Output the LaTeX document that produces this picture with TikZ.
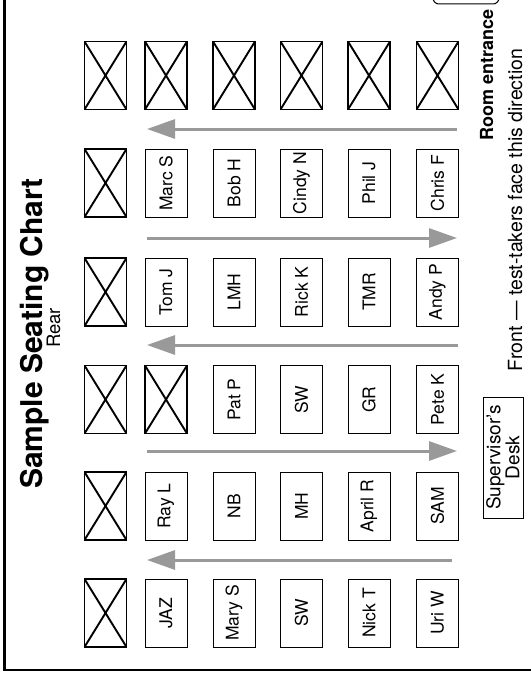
\documentclass[tikz,border=0pt]{standalone}
\usepackage{fontspec}
\setmainfont{TeX Gyre Heros}
\usetikzlibrary{arrows.meta}

\tikzset{
    seat/.style = {draw, line width = 0.9pt, rotate = 90, minimum width = 68pt, minimum height = 42pt, inner sep = 0pt, font = \fontsize{17.5}{20}\selectfont},
    noseat/.style = {seat, line width = 1.3pt, path picture = {
        \draw[line width = 1.9pt] (path picture bounding box.north west) -- (path picture bounding box.south east)
            (path picture bounding box.north east) -- (path picture bounding box.south west);}},
    aisle/.style = {draw = black!40, line width = 3pt, -{Triangle[length = 28pt, width = 19pt]}},
    sidetext/.style = {rotate = 90, anchor = base, inner sep = 0pt}
}

\begin{document}
\begin{tikzpicture}[x = 1pt, y = -1pt]
    \useasboundingbox (0,0) rectangle (530,677);

    \draw[line width = 2.5pt] (4.5,-10) |- (540,670);
    \node[draw, line width = 1pt, rounded corners = 6pt, minimum width = 66pt, minimum height = 26pt] (door) at (466,-9) {};

    \node[sidetext, font = \bfseries\fontsize{30}{36}\selectfont] (title) at (42,333.5) {Sample Seating Chart};
    \node[sidetext, font = \fontsize{18.5}{22}\selectfont] (rear) at (60,328) {Rear};
    \node[sidetext, font = \bfseries\fontsize{18}{20}\selectfont] (entrance) at (493,75) {Room entrance};
    \node[sidetext, font = \fontsize{19.5}{22}\selectfont] (front) at (522,210) {Front --- test-takers face this direction};
    \node[draw, line width = 0.9pt, rotate = 90, minimum width = 121pt, minimum height = 40pt, inner sep = 0pt, align = center, font = \fontsize{19}{17}\selectfont] (desk) at (503,457.5) {Supervisor’s\\Desk};

    \node[noseat] (r1c1) at (105.5,75.5) {};
    \node[noseat] (r1c2) at (166,75.5) {};
    \node[noseat] (r1c3) at (234,75.5) {};
    \node[noseat] (r1c4) at (301.5,75.5) {};
    \node[noseat] (r1c5) at (369,75.5) {};
    \node[noseat] (r1c6) at (437.5,75.5) {};

    \node[noseat] (r2c1) at (105.5,183) {};
    \node[seat] (r2c2) at (166,183) {Marc S};
    \node[seat] (r2c3) at (234,183) {Bob H};
    \node[seat] (r2c4) at (301.5,183) {Cindy N};
    \node[seat] (r2c5) at (369,183) {Phil J};
    \node[seat] (r2c6) at (437.5,183) {Chris F};

    \node[noseat] (r3c1) at (105.5,292) {};
    \node[seat] (r3c2) at (166,292) {Tom J};
    \node[seat] (r3c3) at (234,292) {LMH};
    \node[seat] (r3c4) at (301.5,292) {Rick K};
    \node[seat] (r3c5) at (369,292) {TMR};
    \node[seat] (r3c6) at (437.5,292) {Andy P};

    \node[noseat] (r4c1) at (105.5,399.5) {};
    \node[noseat] (r4c2) at (166,399.5) {};
    \node[seat] (r4c3) at (234,399.5) {Pat P};
    \node[seat] (r4c4) at (301.5,399.5) {SW};
    \node[seat] (r4c5) at (369,399.5) {GR};
    \node[seat] (r4c6) at (437.5,399.5) {Pete K};

    \node[noseat] (r5c1) at (105.5,506) {};
    \node[seat] (r5c2) at (166,506) {Ray L};
    \node[seat] (r5c3) at (234,506) {NB};
    \node[seat] (r5c4) at (301.5,506) {MH};
    \node[seat] (r5c5) at (369,506) {April R};
    \node[seat] (r5c6) at (437.5,506) {SAM};

    \node[noseat] (r6c1) at (105.5,613) {};
    \node[seat] (r6c2) at (166,613) {JAZ};
    \node[seat] (r6c3) at (234,613) {Mary S};
    \node[seat] (r6c4) at (301.5,613) {SW};
    \node[seat] (r6c5) at (369,613) {Nick T};
    \node[seat] (r6c6) at (437.5,613) {Uri W};

    \coordinate (a1l) at (147,129);
    \coordinate (a1r) at (457,129);
    \coordinate (a2l) at (147,238);
    \coordinate (a2r) at (457,238);
    \coordinate (a3l) at (147,345);
    \coordinate (a3r) at (458,345);
    \coordinate (a4l) at (147,451);
    \coordinate (a4r) at (457,451);
    \coordinate (a5l) at (147,560);
    \coordinate (a5r) at (452,560);

    \draw[aisle] (a1r) -- (a1l);
    \draw[aisle] (a2l) -- (a2r);
    \draw[aisle] (a3r) -- (a3l);
    \draw[aisle] (a4l) -- (a4r);
    \draw[aisle] (a5r) -- (a5l);

\end{tikzpicture}
\end{document}
